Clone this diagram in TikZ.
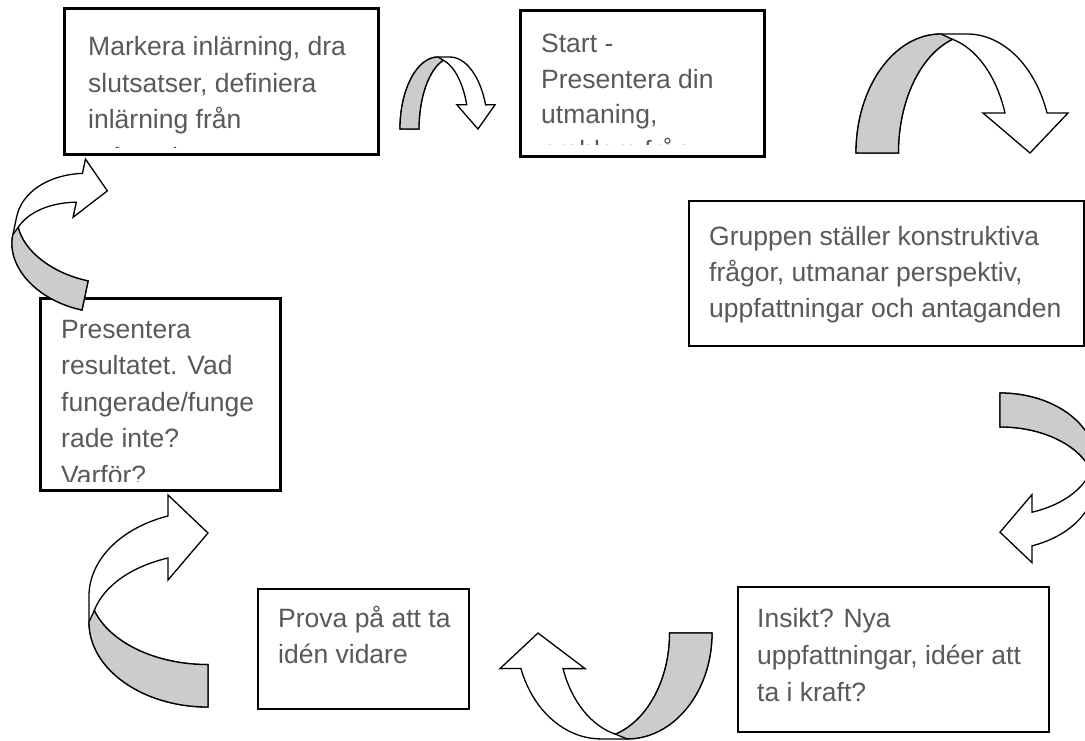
\documentclass[tikz,border=0pt]{standalone}
\usepackage{fontspec}
\setmainfont{Liberation Sans}
\definecolor{txtgray}{RGB}{89,89,89}
\definecolor{arrgray}{RGB}{204,204,204}
\tikzset{
  boxnode/.style={draw=black, line width=1.8pt, fill=white, inner sep=0pt, anchor=north west},
  ln/.style={anchor=base west, inner sep=0pt, text=txtgray, font=\fontsize{26.5}{31}\selectfont},
  arrline/.style={draw=black, line width=1.3pt, line join=miter},
}
\newcommand{\curvarr}[1]{%
  \begin{scope}[#1]
    \path[arrline, fill=white] (0,0) arc[start angle=180, end angle=90, x radius=85, y radius=119]
      -- (111,119) arc[start angle=90, end angle=19.6, x radius=85, y radius=119]
      -- (212,40) -- (174,0) -- (127,40) -- (149,40)
      arc[start angle=20, end angle=76.4, x radius=74.5, y radius=117]
      arc[start angle=107.3, end angle=180, x radius=77, y radius=119] -- cycle;
    \path[arrline, fill=arrgray] (0,0) arc[start angle=180, end angle=90, x radius=85, y radius=119]
      -- (96.5,113.7) arc[start angle=107.3, end angle=180, x radius=77, y radius=119] -- cycle;
  \end{scope}}
\begin{document}
\begin{tikzpicture}[x=1pt, y=1pt]
\clip (0,0) rectangle (1085,-740);
\fill[white] (0,0) rectangle (1085,-740);

% boxes
\node[boxnode, minimum width=313pt, minimum height=145pt] (b1) at (64,-8) {};
\node[boxnode, minimum width=243pt, minimum height=145pt] (b2) at (520,-10) {};
\node[boxnode, minimum width=395pt, minimum height=145pt] (b3) at (688,-200) {};
\node[boxnode, minimum width=311pt, minimum height=145pt] (b4) at (737,-586) {};
\node[boxnode, minimum width=211pt, minimum height=120pt] (b5) at (257,-588) {};
\node[boxnode, minimum width=239pt, minimum height=191pt] (b6) at (40,-298) {};

% texts
\begin{scope}
  \clip (64,-8) rectangle (377,-147);
  \node[ln] (t11) at (88,-55) {Markera inlärning, dra};
  \node[ln] (t12) at (88,-92) {slutsatser, definiera};
  \node[ln] (t13) at (88,-128.5) {inlärning från};
  \node[ln] (t14) at (88,-166) {erfarenheter};
\end{scope}
\begin{scope}
  \clip (520,-10) rectangle (763,-144);
  \node[ln] (t21) at (541,-52) {Start -};
  \node[ln] (t22) at (541,-88) {Presentera din};
  \node[ln] (t23) at (541,-123.5) {utmaning,};
  \node[ln] (t24) at (541,-159) {problem från};
\end{scope}
\node[ln] (t31) at (709,-245) {Gruppen ställer konstruktiva};
\node[ln] (t32) at (709,-281) {frågor, utmanar perspektiv,};
\node[ln] (t33) at (709,-317) {uppfattningar och antaganden};
\node[ln] (t41) at (757,-627) {Insikt? Nya};
\node[ln] (t42) at (757,-664) {uppfattningar, idéer att};
\node[ln] (t43) at (757,-701) {ta i kraft?};
\node[ln] (t51) at (278,-627) {Prova på att ta};
\node[ln] (t52) at (278,-663.5) {idén vidare};
\begin{scope}
  \clip (40,-298) rectangle (279,-481);
  \node[ln] (t61) at (61,-338) {Presentera};
  \node[ln] (t62) at (61,-374.5) {resultatet. Vad};
  \node[ln] (t63) at (61,-411) {fungerade/funge};
  \node[ln] (t64) at (61,-447.5) {rade inte?};
  \node[ln] (t65) at (61,-484) {Varför?};
\end{scope}
% redraw borders over clipped text
\draw[line width=1.8pt] (b1.north west) rectangle (b1.south east);
\draw[line width=1.8pt] (b2.north west) rectangle (b2.south east);
\draw[line width=1.8pt] (b6.north west) rectangle (b6.south east);

% curved arrows
\curvarr{shift={(400,-129)}, xscale=0.448, yscale=0.605}
\curvarr{shift={(856,-153)}}
\curvarr{shift={(1000,-393)}, rotate=-90, scale=0.8}
\curvarr{shift={(712,-633)}, rotate=180, yscale=0.89}
\curvarr{shift={(208,-707)}, rotate=90}
\curvarr{shift={(82,-310)}, rotate=78, scale=0.7}
\end{tikzpicture}
\end{document}
